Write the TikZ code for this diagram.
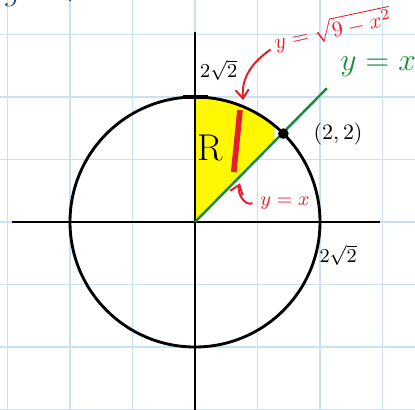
\documentclass[tikz,border=0pt]{standalone}
\usetikzlibrary{arrows.meta}
\definecolor{gridblue}{RGB}{200,226,242}
\definecolor{penred}{RGB}{228,30,42}
\definecolor{pengreen}{RGB}{22,138,62}
\definecolor{penblue}{RGB}{18,78,140}
\definecolor{hilite}{RGB}{255,248,0}
\tikzset{
  pen/.style={line width=1.3pt},
  redarrow/.style={penred,line width=0.9pt,-{Straight Barb[length=4pt,width=6pt]}}
}
\begin{document}
\begin{tikzpicture}
	\useasboundingbox (-3.12,-2.992) rectangle (3.52,3.552);
	\draw[gridblue,line width=0.6pt] (-3.12,-3.1) grid (3.52,3.552);
	\coordinate (O) at (0,0);
	\coordinate (P) at (45:2);
	\coordinate (Q) at (2.11,2.14);
	\coordinate (T) at (0,2);
	\coordinate (S1) at (0.72,1.79);
	\coordinate (S2) at (0.62,0.80);
	\coordinate (U) at (0.77,1.95);
	\coordinate (V) at (0.72,0.62);
	\fill[hilite] (O) -- (1.27,1.27) -- (50.6:2) arc[start angle=50.6,end angle=90,radius=2] -- cycle;
	\draw[pen] (-2.93,0) -- (2.96,0) (0,3.04) -- (0,-3.1);
	\draw[pen] (O) circle (2);
	\draw[line width=1.8pt] ([xshift=-0.2cm]T) -- ([xshift=0.2cm]T);
	\draw[pengreen,line width=1.1pt] (O) -- (Q);
	\fill (P) circle (0.085);
	\draw[penred,line width=2.6pt] (S1) -- (S2);
	\node (R) at (0.24,1.18) {\fontsize{17}{17}\selectfont R};
	\node (top) at (0.38,2.43) {\small $2\sqrt{2}$};
	\node (pt) at (2.29,1.41) {$(2,2)$};
	\node (xr) at (2.29,-0.53) {\small $2\sqrt{2}$};
	\node[pengreen,inner sep=0pt] (gl) at (2.93,2.48) {\Large $y=x$};
	\node[penred,rotate=12,inner sep=0pt] (rl) at (2.2,3.08) {$y=\sqrt{9-x^2}$};
	\node[penred] (rx) at (1.44,0.30) {\small $y=x$};
	\node[penblue] (b1) at (-2.92,3.6) {\Large $g$};
	\node[penblue] (b2) at (-1.93,3.64) {\Large $r$};
	\draw[redarrow] ([shift={(-0.05,-0.12)}]rl.west) to[out=215,in=95] (U);
	\draw[redarrow] (rx.west) to[out=200,in=-110] (V);
\end{tikzpicture}
\end{document}
